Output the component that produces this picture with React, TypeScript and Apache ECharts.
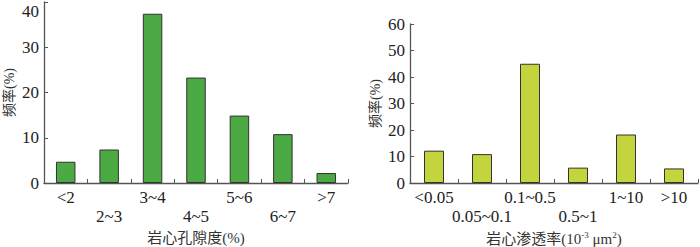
import React, { useEffect, useRef } from "react";
import * as echarts from "echarts";

const poroCategories = ["<2", "2~3", "3~4", "4~5", "5~6", "6~7", ">7"];
const poroValues = [4.7, 7.4, 37.4, 23.3, 14.9, 10.8, 2.2];
const poroLabelRow = [0, 1, 0, 1, 0, 1, 0];
const permCategories = ["<0.05", "0.05~0.1", "0.1~0.5", "0.5~1", "1~10", ">10"];
const permValues = [12.2, 10.9, 45.0, 5.8, 18.3, 5.5];
const permLabelRow = [0, 1, 0, 1, 0, 0];

const FONT = "'Liberation Serif', 'Times New Roman', 'Noto Sans CJK SC', serif";

export default function App() {
  const ref = useRef<HTMLDivElement>(null);
  useEffect(() => {
    document.body.style.margin = "0";
    const chart = echarts.init(ref.current!, undefined, { renderer: "svg" });
    const axisLine = { show: true, lineStyle: { color: "#555", width: 1.3 } };
    const xAxisCommon = (data: string[], rows: number[]) => ({
      type: "category",
      data,
      axisLine,
      axisTick: { show: true, inside: true, length: 4, interval: 0, lineStyle: { color: "#555" } },
      axisLabel: {
        interval: 0,
        color: "#222",
        fontFamily: FONT,
        fontSize: 17,
        lineHeight: 19,
        margin: 5,
        formatter: (v: string, i: number) => (rows[i] === 1 ? "\n" + v : v),
      },
      nameLocation: "middle",
      nameGap: 44,
      nameTextStyle: { color: "#333", fontFamily: FONT, fontSize: 15 },
    });
    const yAxisCommon = (max: number, shiftTop: boolean) => ({
      type: "value",
      min: 0,
      max,
      interval: 10,
      splitLine: { show: false },
      axisLine,
      axisTick: { show: true, inside: true, length: 4, lineStyle: { color: "#555" } },
      axisLabel: {
        color: "#222",
        fontFamily: FONT,
        fontSize: 17,
        margin: 5,
        formatter: (v: number) => (shiftTop && v === max ? "{top|" + v + "}" : String(v)),
        rich: { top: { color: "#222", fontFamily: FONT, fontSize: 17, padding: [18, 0, 0, 0] } },
      },
      name: "频率(%)",
      nameLocation: "middle",
      nameGap: 28,
      nameTextStyle: { color: "#333", fontFamily: FONT, fontSize: 14 },
    });
    chart.setOption({
      animation: false,
      grid: [
        { left: 44, top: 2, width: 304, height: 181, containLabel: false, outerBoundsMode: "none" },
        { left: 410, top: 24, width: 288, height: 159, containLabel: false, outerBoundsMode: "none" },
      ],
      xAxis: [
        { ...xAxisCommon(poroCategories, poroLabelRow), gridIndex: 0, name: "岩心孔隙度(%)" },
        {
          ...xAxisCommon(permCategories, permLabelRow),
          gridIndex: 1,
          name: "岩心渗透率(10{sup|-3} μm{sup|2})",
          nameTextStyle: {
            color: "#333",
            fontFamily: FONT,
            fontSize: 15,
            rich: { sup: { fontSize: 9, verticalAlign: "top", padding: [0, 0, 8, 0], color: "#333", fontFamily: FONT } },
          },
        },
      ],
      yAxis: [
        { ...yAxisCommon(40, true), gridIndex: 0 },
        { ...yAxisCommon(60, false), gridIndex: 1 },
      ],
      series: [
        {
          type: "bar",
          xAxisIndex: 0,
          yAxisIndex: 0,
          data: poroValues,
          barWidth: 19.5,
          itemStyle: { color: "#4caa44", borderColor: "#333", borderWidth: 1 },
        },
        {
          type: "bar",
          xAxisIndex: 1,
          yAxisIndex: 1,
          data: permValues,
          barWidth: 20,
          itemStyle: { color: "#c4d43c", borderColor: "#333", borderWidth: 1 },
        },
      ],
    });
    return () => chart.dispose();
  }, []);
  return <div ref={ref} style={{ width: 700, height: 247 }} />;
}
